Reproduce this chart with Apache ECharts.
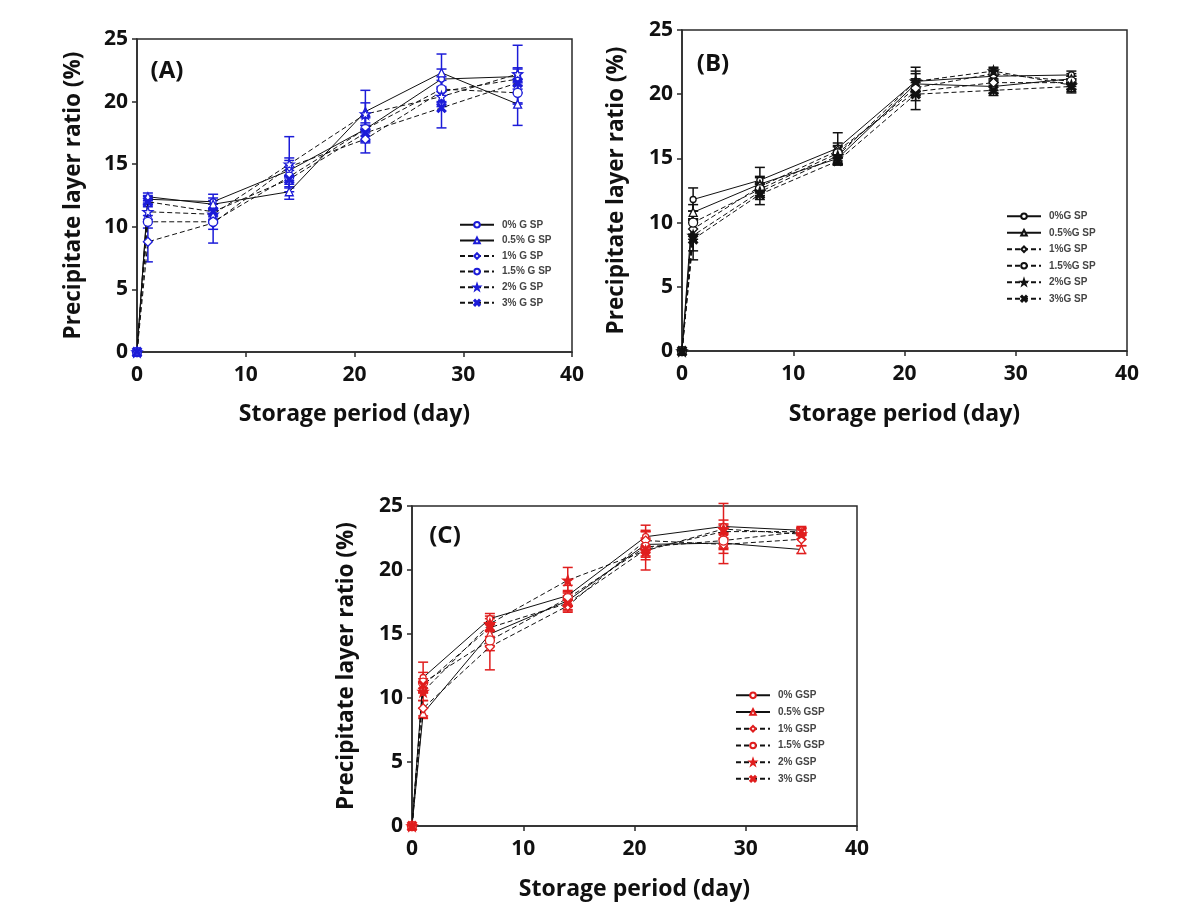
<!DOCTYPE html>
<html>
<head>
<meta charset="utf-8">
<script src="https://cdn.jsdelivr.net/npm/echarts@6/dist/echarts.min.js"></script>
<style>
html,body{margin:0;padding:0;background:#fff;}
#chart{width:1183px;height:914px;}
</style>
</head>
<body>
<div id="chart"></div>
<script>
// ---------- DATA ----------
var days = [0, 1, 7, 14, 21, 28, 35];
var seriesNamesA = ['0% G SP', '0.5% G SP', '1% G SP', '1.5% G SP', '2% G SP', '3% G SP'];
var seriesNamesB = ['0%G SP', '0.5%G SP', '1%G SP', '1.5%G SP', '2%G SP', '3%G SP'];
var seriesNamesC = ['0% GSP', '0.5% GSP', '1% GSP', '1.5% GSP', '2% GSP', '3% GSP'];
var xTicks = [0, 10, 20, 30, 40];
var yTicks = [0, 5, 10, 15, 20, 25];

// Panel A values and SD
var a0 = [0, 12.2, 12.0, 14.5, 17.8, 21.8, 22.0];
var a05 = [0, 12.4, 11.8, 12.8, 19.2, 22.3, 19.8];
var a1 = [0, 8.8, 10.3, 14.8, 17.0, 20.8, 21.8];
var a15 = [0, 10.4, 10.4, 14.0, 17.8, 21.0, 20.7];
var a2 = [0, 11.2, 11.0, 15.0, 19.0, 20.4, 22.2];
var a3 = [0, 12.0, 11.2, 13.8, 17.5, 19.5, 21.5];
var sdA0 = [0, 0.3, 0.6, 0.8, 0.9, 0.8, 0.7];
var sdA05 = [0, 0.3, 0.5, 0.6, 1.7, 1.5, 1.7];
var sdA1 = [0, 1.6, 0.5, 0.7, 1.1, 0.9, 0.8];
var sdA15 = [0, 0.5, 1.7, 0.8, 1.0, 1.0, 0.9];
var sdA2 = [0, 0.6, 0.5, 2.2, 0.9, 0.8, 2.3];
var sdA3 = [0, 0.4, 0.6, 0.7, 0.8, 1.6, 0.8];

// Panel B values and SD
var b0 = [0, 11.8, 13.3, 15.8, 21.0, 21.4, 21.5];
var b05 = [0, 10.8, 13.0, 15.0, 20.8, 20.6, 21.2];
var b1 = [0, 9.5, 12.8, 15.6, 20.2, 20.9, 20.9];
var b15 = [0, 10.0, 12.6, 15.4, 20.5, 21.6, 21.0];
var b2 = [0, 9.0, 12.4, 15.2, 21.0, 21.8, 20.7];
var b3 = [0, 8.7, 12.2, 14.8, 20.0, 20.3, 20.6];
var sdB0 = [0, 0.9, 1.0, 1.2, 1.1, 0.4, 0.3];
var sdB05 = [0, 0.6, 0.6, 0.5, 0.8, 0.5, 0.4];
var sdB1 = [0, 0.8, 0.7, 0.6, 0.7, 0.6, 0.5];
var sdB15 = [0, 0.9, 0.5, 0.6, 0.6, 0.4, 0.4];
var sdB2 = [0, 1.2, 0.6, 0.7, 0.8, 0.3, 0.5];
var sdB3 = [0, 1.6, 0.8, 0.3, 1.2, 0.4, 0.5];

// Panel C values and SD
var c0 = [0, 11.6, 16.2, 18.0, 22.6, 23.4, 23.1];
var c05 = [0, 8.8, 15.0, 17.6, 22.0, 22.1, 21.6];
var c1 = [0, 9.2, 14.0, 17.2, 22.3, 22.0, 22.4];
var c15 = [0, 11.2, 14.5, 17.8, 21.8, 22.3, 23.0];
var c2 = [0, 10.5, 15.8, 19.2, 21.5, 23.2, 22.8];
var c3 = [0, 11.0, 15.5, 17.4, 21.6, 23.0, 23.0];
var sdC0 = [0, 1.2, 0.4, 0.8, 0.9, 1.8, 0.3];
var sdC05 = [0, 0.4, 0.9, 0.7, 1.0, 0.8, 0.3];
var sdC1 = [0, 0.6, 1.8, 0.5, 0.8, 1.5, 0.5];
var sdC15 = [0, 0.8, 0.8, 0.6, 0.7, 0.6, 0.3];
var sdC2 = [0, 0.7, 0.6, 1.0, 1.5, 0.7, 0.4];
var sdC3 = [0, 0.5, 0.7, 0.6, 0.8, 0.6, 0.3];

var valuesA = [a0, a05, a1, a15, a2, a3];
var sdsA = [sdA0, sdA05, sdA1, sdA15, sdA2, sdA3];
var valuesB = [b0, b05, b1, b15, b2, b3];
var sdsB = [sdB0, sdB05, sdB1, sdB15, sdB2, sdB3];
var valuesC = [c0, c05, c1, c15, c2, c3];
var sdsC = [sdC0, sdC05, sdC1, sdC15, sdC2, sdC3];

// ---------- STYLE ----------
var FONT = '"Open Sans", "Liberation Sans", Arial, sans-serif';
var STAR = 'path://M0,-10 L2.35,-3.24 9.51,-3.09 3.8,1.24 5.88,8.09 0,4 -5.88,8.09 -3.8,1.24 -9.51,-3.09 -2.35,-3.24 Z';
var XMARK = 'path://M-5,-3.5 L-3.5,-5 L0,-1.5 L3.5,-5 L5,-3.5 L1.5,0 L5,3.5 L3.5,5 L0,1.5 L-3.5,5 L-5,3.5 L-1.5,0 Z';
var symbols = ['circle', 'triangle', 'diamond', 'circle', STAR, XMARK];
var symSizes = [6, 8, 9, 9, 10, 9];
var dashed = [false, false, true, true, true, true];

var panels = [
  {names: seriesNamesA, vals: valuesA, sds: sdsA, color: '#1c1cd8', starFilled: false,
   grid: {left: 137, top: 39, width: 435, height: 313}, yGap: 52, xGap: 51,
   legend: {left: 459, top: 217, pitch: 15.6}, label: '(A)', lx: 162, ly: 66},
  {names: seriesNamesB, vals: valuesB, sds: sdsB, color: '#111111', starFilled: true,
   grid: {left: 682, top: 30, width: 445, height: 321}, yGap: 54, xGap: 52,
   legend: {left: 1006, top: 208, pitch: 16.5}, label: '(B)', lx: 708, ly: 59},
  {names: seriesNamesC, vals: valuesC, sds: sdsC, color: '#e01e1e', starFilled: true,
   grid: {left: 412, top: 506, width: 445, height: 320}, yGap: 54, xGap: 52,
   legend: {left: 735, top: 687, pitch: 16.7}, label: '(C)', lx: 440, ly: 531}
];

function errRender(color) {
  return function (params, api) {
    var x = api.value(0), lo = api.value(1), hi = api.value(2);
    var p1 = api.coord([x, lo]), p2 = api.coord([x, hi]);
    var w = 5;
    var st = {stroke: color, lineWidth: 1.5};
    return {type: 'group', children: [
      {type: 'line', shape: {x1: p1[0], y1: p1[1], x2: p2[0], y2: p2[1]}, style: st},
      {type: 'line', shape: {x1: p1[0] - w, y1: p1[1], x2: p1[0] + w, y2: p1[1]}, style: st},
      {type: 'line', shape: {x1: p2[0] - w, y1: p2[1], x2: p2[0] + w, y2: p2[1]}, style: st}
    ]};
  };
}

var option = {
  animation: false,
  backgroundColor: '#ffffff',
  grid: [], xAxis: [], yAxis: [], legend: [], title: [], series: []
};

panels.forEach(function (p, pi) {
  option.grid.push({left: p.grid.left, top: p.grid.top, width: p.grid.width, height: p.grid.height,
    show: true, borderColor: '#2a2a2a', borderWidth: 1.5, backgroundColor: 'transparent', containLabel: false});
  option.xAxis.push({
    type: 'value', gridIndex: pi, min: xTicks[0], max: xTicks[xTicks.length - 1], interval: 10,
    name: 'Storage period (day)', nameLocation: 'middle', nameGap: p.xGap,
    nameTextStyle: {fontFamily: FONT, fontWeight: 'bold', fontSize: 23, color: '#111'},
    axisLine: {show: true, onZero: false, lineStyle: {color: '#2a2a2a', width: 1.5}},
    axisTick: {show: true, inside: false, length: 5, lineStyle: {color: '#2a2a2a', width: 1.5}},
    axisLabel: {margin: 13, fontFamily: FONT, fontWeight: 'bold', fontSize: 21, color: '#111'},
    splitLine: {show: false}
  });
  option.yAxis.push({
    type: 'value', gridIndex: pi, min: yTicks[0], max: yTicks[yTicks.length - 1], interval: 5,
    name: 'Precipitate layer ratio (%)', nameLocation: 'middle', nameGap: p.yGap, nameRotate: 90,
    nameTextStyle: {fontFamily: FONT, fontWeight: 'bold', fontSize: 22.5, color: '#111'},
    axisLine: {show: true, onZero: false, lineStyle: {color: '#2a2a2a', width: 1.5}},
    axisTick: {show: true, inside: false, length: 5, lineStyle: {color: '#2a2a2a', width: 1.5}},
    axisLabel: {margin: 9, fontFamily: FONT, fontWeight: 'bold', fontSize: 21, color: '#111'},
    splitLine: {show: false}
  });
  option.title.push({text: p.label, left: p.lx, top: p.ly, textAlign: 'center', textVerticalAlign: 'middle',
    textStyle: {fontFamily: FONT, fontWeight: 'bold', fontSize: 24, color: '#111'}});
  option.legend.push({
    data: p.names, orient: 'vertical', left: p.legend.left, top: p.legend.top, padding: 0,
    itemWidth: 34, itemHeight: 7, itemGap: 0,
    textStyle: {fontFamily: '"Liberation Sans", Arial, sans-serif', fontWeight: 'bold', fontSize: 10, color: '#444',
      lineHeight: p.legend.pitch, padding: [0, 0, 0, 3]},
    selectedMode: false
  });

  p.names.forEach(function (nm, si) {
    var filledStar = (si === 4 && p.starFilled);
    var filled = (si === 5) || filledStar;
    option.series.push({
      type: 'line', name: nm, xAxisIndex: pi, yAxisIndex: pi,
      data: days.map(function (d, k) { return [d, p.vals[si][k]]; }),
      symbol: symbols[si], symbolSize: symSizes[si], showAllSymbol: true,
      lineStyle: {color: '#111', width: 1, type: dashed[si] ? [5, 3] : 'solid'},
      itemStyle: {color: filled ? p.color : '#ffffff', borderColor: p.color, borderWidth: 1.3},
      z: 3
    });
    option.series.push({
      type: 'custom', name: 'err_' + pi + '_' + si, xAxisIndex: pi, yAxisIndex: pi,
      renderItem: errRender(p.color),
      encode: {x: 0, y: [1, 2]},
      data: days.map(function (d, k) {
        return [d, p.vals[si][k] - p.sds[si][k], p.vals[si][k] + p.sds[si][k]];
      }).filter(function (r) { return r[2] - r[1] > 0; }),
      z: 2, silent: true
    });
  });
});

var chart = echarts.init(document.getElementById('chart'), null, {renderer: 'canvas'});
chart.setOption(option);
</script>
</body>
</html>
